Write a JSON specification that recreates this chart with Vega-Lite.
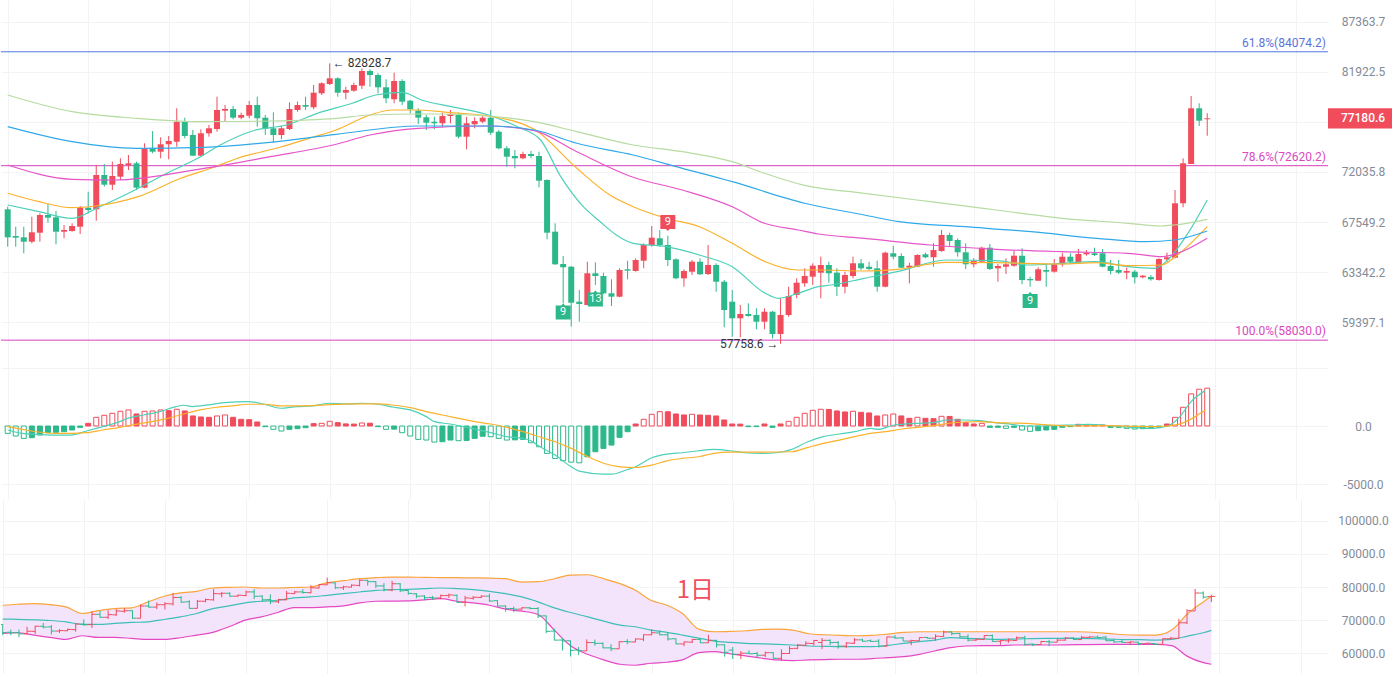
{
  "$schema": "https://vega.github.io/schema/vega-lite/v6.json",
  "padding": 0,
  "background": "white",
  "spacing": 0,
  "bounds": "flush",
  "resolve": {"scale": {"color": "independent"}},
  "config": {
    "view": {"stroke": null},
    "font": "Roboto",
    "axis": {
      "labelFont": "Roboto",
      "labelFontSize": 12,
      "labelColor": "#848b97",
      "gridColor": "#f2f3f5",
      "gridWidth": 1,
      "domain": false,
      "ticks": false,
      "tickSize": 0,
      "title": null,
      "labelPadding": 35
    }
  },
  "datasets": {
    "k": [
      {"i":0,"o":68660,"h":68890,"l":65440,"c":66230},
      {"i":1,"o":66345,"h":67143,"l":65440,"c":66200},
      {"i":2,"o":66234,"h":67143,"l":64885,"c":65860},
      {"i":3,"o":65860,"h":68012,"l":65725,"c":66661},
      {"i":4,"o":66626,"h":68310,"l":65860,"c":68161},
      {"i":5,"o":68161,"h":69132,"l":67489,"c":67925},
      {"i":6,"o":67960,"h":68511,"l":65640,"c":66712},
      {"i":7,"o":66712,"h":67290,"l":66148,"c":66857},
      {"i":8,"o":66772,"h":67437,"l":66712,"c":67203},
      {"i":9,"o":67143,"h":68954,"l":66515,"c":68839},
      {"i":10,"o":68803,"h":70233,"l":68310,"c":68599},
      {"i":11,"o":68661,"h":72687,"l":67662,"c":71758},
      {"i":12,"o":71758,"h":72780,"l":70687,"c":70869},
      {"i":13,"o":70869,"h":72995,"l":70386,"c":71666},
      {"i":14,"o":71601,"h":73315,"l":71297,"c":72780},
      {"i":15,"o":72687,"h":73627,"l":72219,"c":72845},
      {"i":16,"o":72845,"h":72995,"l":70386,"c":70596},
      {"i":17,"o":70596,"h":74743,"l":70541,"c":74263},
      {"i":18,"o":74263,"h":75934,"l":73788,"c":73939},
      {"i":19,"o":73939,"h":75321,"l":73315,"c":74647},
      {"i":20,"o":74647,"h":75448,"l":73220,"c":74963},
      {"i":21,"o":74896,"h":78183,"l":74416,"c":76848},
      {"i":22,"o":76848,"h":77244,"l":75224,"c":75448},
      {"i":23,"o":75545,"h":76031,"l":73532,"c":73561},
      {"i":24,"o":73561,"h":76100,"l":73532,"c":75710},
      {"i":25,"o":75710,"h":76523,"l":75380,"c":76198},
      {"i":26,"o":76129,"h":79358,"l":75866,"c":78011},
      {"i":27,"o":77941,"h":78516,"l":76848,"c":78112},
      {"i":28,"o":78112,"h":78415,"l":77085,"c":77244},
      {"i":29,"o":77244,"h":77742,"l":77085,"c":77513},
      {"i":30,"o":77443,"h":78920,"l":77184,"c":78516},
      {"i":31,"o":78516,"h":79358,"l":76356,"c":77184},
      {"i":32,"o":77244,"h":77513,"l":75545,"c":76129},
      {"i":33,"o":76198,"h":77782,"l":74800,"c":75545},
      {"i":34,"o":75545,"h":76454,"l":75127,"c":76198},
      {"i":35,"o":76129,"h":78788,"l":76031,"c":78112},
      {"i":36,"o":78011,"h":78849,"l":77842,"c":78516},
      {"i":37,"o":78516,"h":79358,"l":78011,"c":78344},
      {"i":38,"o":78284,"h":80561,"l":78082,"c":79767},
      {"i":39,"o":79706,"h":80841,"l":79532,"c":80737},
      {"i":40,"o":80665,"h":82828.7,"l":80561,"c":81257},
      {"i":41,"o":81257,"h":81362,"l":79358,"c":79767},
      {"i":42,"o":79767,"h":80385,"l":79093,"c":80043},
      {"i":43,"o":79971,"h":80800,"l":79869,"c":80561},
      {"i":44,"o":80489,"h":82309,"l":80147,"c":82023},
      {"i":45,"o":82023,"h":82202,"l":80385,"c":81604},
      {"i":46,"o":81604,"h":81782,"l":79706,"c":80323},
      {"i":47,"o":80323,"h":81152,"l":78688,"c":79195},
      {"i":48,"o":79093,"h":81845,"l":78688,"c":80975},
      {"i":49,"o":80975,"h":81152,"l":78516,"c":78849},
      {"i":50,"o":78950,"h":79021,"l":77682,"c":78082},
      {"i":51,"o":77941,"h":78183,"l":76621,"c":77244},
      {"i":52,"o":77284,"h":77513,"l":76031,"c":76750},
      {"i":53,"o":76848,"h":77344,"l":76100,"c":76690},
      {"i":54,"o":76690,"h":77742,"l":76297,"c":77413},
      {"i":55,"o":77413,"h":78011,"l":76690,"c":77613},
      {"i":56,"o":77513,"h":77742,"l":75224,"c":75380},
      {"i":57,"o":75380,"h":77344,"l":74167,"c":76690},
      {"i":58,"o":76592,"h":77284,"l":76198,"c":76917},
      {"i":59,"o":76848,"h":77513,"l":76690,"c":77244},
      {"i":60,"o":77244,"h":78011,"l":75545,"c":75769},
      {"i":61,"o":75866,"h":76031,"l":74167,"c":74263},
      {"i":62,"o":74263,"h":74484,"l":72528,"c":73466},
      {"i":63,"o":73532,"h":74100,"l":72378,"c":73315},
      {"i":64,"o":73315,"h":73939,"l":73220,"c":73722},
      {"i":65,"o":73722,"h":74005,"l":73315,"c":73532},
      {"i":66,"o":73532,"h":73939,"l":70632,"c":71233},
      {"i":67,"o":71297,"h":71362,"l":66063,"c":66626},
      {"i":68,"o":66712,"h":67437,"l":63917,"c":63974},
      {"i":69,"o":63998,"h":64660,"l":60845,"c":63728},
      {"i":70,"o":63777,"h":63834,"l":59042,"c":60892},
      {"i":71,"o":60970,"h":61893,"l":59423,"c":60791},
      {"i":72,"o":60713,"h":64187,"l":60713,"c":63238},
      {"i":73,"o":63238,"h":64138,"l":62294,"c":63019},
      {"i":74,"o":63019,"h":63287,"l":61577,"c":61632},
      {"i":75,"o":61632,"h":62751,"l":60634,"c":61364},
      {"i":76,"o":61364,"h":63646,"l":61316,"c":63506},
      {"i":77,"o":63563,"h":64270,"l":62751,"c":63449},
      {"i":78,"o":63425,"h":64469,"l":63368,"c":64327},
      {"i":79,"o":64270,"h":65725,"l":63646,"c":65582},
      {"i":80,"o":65582,"h":67203,"l":65438,"c":66200},
      {"i":81,"o":66148,"h":66857,"l":65438,"c":65582},
      {"i":82,"o":65582,"h":66370,"l":63834,"c":64327},
      {"i":83,"o":64385,"h":64469,"l":62751,"c":62832},
      {"i":84,"o":62832,"h":63563,"l":62157,"c":63425},
      {"i":85,"o":63368,"h":64327,"l":63100,"c":64187},
      {"i":86,"o":64187,"h":64469,"l":63100,"c":63157},
      {"i":87,"o":63181,"h":65582,"l":63100,"c":63917},
      {"i":88,"o":63917,"h":64056,"l":61759,"c":62558},
      {"i":89,"o":62558,"h":62694,"l":58997,"c":60322},
      {"i":90,"o":60970,"h":61893,"l":58288,"c":59683},
      {"i":91,"o":59683,"h":60713,"l":58243,"c":60014},
      {"i":92,"o":60014,"h":60845,"l":59806,"c":59860},
      {"i":93,"o":59937,"h":60455,"l":58844,"c":59423},
      {"i":94,"o":59423,"h":60455,"l":58844,"c":60191},
      {"i":95,"o":60191,"h":60250,"l":58168,"c":58491},
      {"i":96,"o":58491,"h":61237,"l":57758.6,"c":59937},
      {"i":97,"o":59937,"h":62157,"l":59806,"c":61419},
      {"i":98,"o":61498,"h":62832,"l":61237,"c":62478},
      {"i":99,"o":62430,"h":63646,"l":62157,"c":63019},
      {"i":100,"o":62962,"h":64056,"l":62294,"c":63859},
      {"i":101,"o":63287,"h":64602,"l":61237,"c":63917},
      {"i":102,"o":63917,"h":64187,"l":62478,"c":63238},
      {"i":103,"o":63287,"h":63646,"l":61419,"c":62157},
      {"i":104,"o":62157,"h":63368,"l":61632,"c":63100},
      {"i":105,"o":63019,"h":64602,"l":62832,"c":64056},
      {"i":106,"o":64056,"h":64410,"l":63506,"c":63646},
      {"i":107,"o":63777,"h":64187,"l":63506,"c":63588},
      {"i":108,"o":63646,"h":64270,"l":61759,"c":62157},
      {"i":109,"o":62157,"h":65018,"l":62109,"c":64935},
      {"i":110,"o":64885,"h":65497,"l":64385,"c":64602},
      {"i":111,"o":64660,"h":64885,"l":63646,"c":63695},
      {"i":112,"o":63695,"h":64105,"l":62426,"c":63859},
      {"i":113,"o":63777,"h":64802,"l":63728,"c":64743},
      {"i":114,"o":64802,"h":64935,"l":64469,"c":64552},
      {"i":115,"o":64552,"h":65725,"l":63777,"c":65160},
      {"i":116,"o":65077,"h":66857,"l":65018,"c":66430},
      {"i":117,"o":66430,"h":66626,"l":65438,"c":65919},
      {"i":118,"o":66003,"h":66148,"l":64602,"c":64968},
      {"i":119,"o":64968,"h":65725,"l":63588,"c":63974},
      {"i":120,"o":63974,"h":64469,"l":63728,"c":64245},
      {"i":121,"o":64187,"h":65438,"l":64138,"c":65354},
      {"i":122,"o":65354,"h":65666,"l":63506,"c":63588},
      {"i":123,"o":63646,"h":63998,"l":62556,"c":63834},
      {"i":124,"o":63777,"h":64469,"l":63181,"c":63974},
      {"i":125,"o":63859,"h":65102,"l":63777,"c":64685},
      {"i":126,"o":64685,"h":65303,"l":62350,"c":62694},
      {"i":127,"o":62775,"h":62962,"l":62157,"c":62670},
      {"i":128,"o":62638,"h":63728,"l":62638,"c":63563},
      {"i":129,"o":63506,"h":64056,"l":62157,"c":63368},
      {"i":130,"o":63368,"h":64410,"l":63287,"c":63974},
      {"i":131,"o":63974,"h":64935,"l":63777,"c":64602},
      {"i":132,"o":64602,"h":64885,"l":63998,"c":64187},
      {"i":133,"o":64138,"h":65244,"l":64105,"c":64827},
      {"i":134,"o":64802,"h":65160,"l":64685,"c":64935},
      {"i":135,"o":64885,"h":65354,"l":64660,"c":64743},
      {"i":136,"o":64885,"h":65244,"l":63728,"c":63777},
      {"i":137,"o":63834,"h":64327,"l":63157,"c":63425},
      {"i":138,"o":63506,"h":64327,"l":63181,"c":63287},
      {"i":139,"o":63287,"h":63695,"l":62751,"c":63425},
      {"i":140,"o":63368,"h":63506,"l":62430,"c":62913},
      {"i":141,"o":62913,"h":63100,"l":62832,"c":63043},
      {"i":142,"o":62938,"h":63100,"l":62638,"c":62751},
      {"i":143,"o":62694,"h":64469,"l":62638,"c":64410},
      {"i":144,"o":64385,"h":64935,"l":64187,"c":64552},
      {"i":145,"o":64519,"h":70386,"l":64469,"c":69194},
      {"i":146,"o":69194,"h":73315,"l":68839,"c":72845},
      {"i":147,"o":72780,"h":79430,"l":72780,"c":78183},
      {"i":148,"o":78183,"h":78688,"l":76424,"c":76946},
      {"i":149,"o":77090,"h":77682,"l":75477,"c":77180.6}
    ],
    "ma": [
      {"s":"m1","i":0,"v":69043},{"s":"m1","i":3.9,"v":68450},{"s":"m1","i":8,"v":67872},{"s":"m1","i":11.3,"v":68839},
      {"s":"m1","i":15,"v":70089},{"s":"m1","i":19.9,"v":71970},{"s":"m1","i":23.6,"v":73315},{"s":"m1","i":26.4,"v":74580},
      {"s":"m1","i":30.5,"v":75962},{"s":"m1","i":34.6,"v":76523},{"s":"m1","i":38.7,"v":77742},{"s":"m1","i":42.8,"v":78688},
      {"s":"m1","i":45.7,"v":79532},{"s":"m1","i":49,"v":79800},{"s":"m1","i":51.4,"v":79021},{"s":"m1","i":55.1,"v":78344},
      {"s":"m1","i":59.7,"v":77513},{"s":"m1","i":63.3,"v":76356},{"s":"m1","i":66.2,"v":75059},{"s":"m1","i":68.7,"v":71601},
      {"s":"m1","i":71.5,"v":68892},{"s":"m1","i":73.6,"v":67576},{"s":"m1","i":75.6,"v":66430},{"s":"m1","i":77.7,"v":65725},
      {"s":"m1","i":81.8,"v":65438},{"s":"m1","i":85.9,"v":64743},{"s":"m1","i":90,"v":63777},{"s":"m1","i":94.1,"v":61632},
      {"s":"m1","i":95.7,"v":61237},{"s":"m1","i":98.2,"v":61632},{"s":"m1","i":100.7,"v":62157},{"s":"m1","i":102.3,"v":62294},
      {"s":"m1","i":106.4,"v":62832},{"s":"m1","i":110.5,"v":63368},{"s":"m1","i":116.6,"v":64327},{"s":"m1","i":122.8,"v":64270},
      {"s":"m1","i":126.9,"v":63917},{"s":"m1","i":131,"v":64056},{"s":"m1","i":135.1,"v":64187},{"s":"m1","i":139.2,"v":63777},
      {"s":"m1","i":142.5,"v":63646},{"s":"m1","i":144.1,"v":64327},{"s":"m1","i":146.6,"v":66575},{"s":"m1","i":149,"v":69487},
      {"s":"m2","i":0,"v":70089},{"s":"m2","i":3.9,"v":69336},{"s":"m2","i":8,"v":68803},{"s":"m2","i":10.9,"v":68954},
      {"s":"m2","i":16.2,"v":69784},{"s":"m2","i":21.5,"v":71454},{"s":"m2","i":25.6,"v":72471},{"s":"m2","i":28.5,"v":73300},
      {"s":"m2","i":33.8,"v":74359},{"s":"m2","i":37.9,"v":75321},{"s":"m2","i":40.8,"v":76031},{"s":"m2","i":45,"v":77513},
      {"s":"m2","i":47.8,"v":78011},{"s":"m2","i":51,"v":78011},{"s":"m2","i":55.1,"v":77742},{"s":"m2","i":59.7,"v":77413},
      {"s":"m2","i":65.4,"v":76100},{"s":"m2","i":70.7,"v":72378},{"s":"m2","i":74.8,"v":69936},{"s":"m2","i":77.7,"v":68892},
      {"s":"m2","i":81.8,"v":67872},{"s":"m2","i":85.9,"v":67143},{"s":"m2","i":90,"v":65725},{"s":"m2","i":94.1,"v":64187},
      {"s":"m2","i":98.2,"v":63506},{"s":"m2","i":100.7,"v":63506},{"s":"m2","i":106.4,"v":63425},{"s":"m2","i":110.5,"v":63563},
      {"s":"m2","i":116.6,"v":64138},{"s":"m2","i":122.8,"v":64105},{"s":"m2","i":131,"v":63998},{"s":"m2","i":135.1,"v":64105},
      {"s":"m2","i":139.2,"v":63859},{"s":"m2","i":143.3,"v":63917},{"s":"m2","i":145.3,"v":64743},{"s":"m2","i":149,"v":67143},
      {"s":"m3","i":0,"v":72687},{"s":"m3","i":8,"v":71362},{"s":"m3","i":13.3,"v":71297},{"s":"m3","i":24.4,"v":72378},
      {"s":"m3","i":32.6,"v":73466},{"s":"m3","i":40.8,"v":74647},{"s":"m3","i":45,"v":75545},{"s":"m3","i":51,"v":76198},
      {"s":"m3","i":59.7,"v":76424},{"s":"m3","i":65.4,"v":75962},{"s":"m3","i":70.7,"v":73939},{"s":"m3","i":77.7,"v":71546},
      {"s":"m3","i":83.8,"v":70386},{"s":"m3","i":90,"v":68892},{"s":"m3","i":94,"v":67437},{"s":"m3","i":98.2,"v":66857},
      {"s":"m3","i":100.7,"v":66515},{"s":"m3","i":106.4,"v":66148},{"s":"m3","i":114.6,"v":65582},{"s":"m3","i":122.8,"v":65219},
      {"s":"m3","i":131,"v":65018},{"s":"m3","i":139.2,"v":64885},{"s":"m3","i":143.3,"v":64602},{"s":"m3","i":145.3,"v":64885},
      {"s":"m3","i":149,"v":66148},
      {"s":"m4","i":0,"v":76356},{"s":"m4","i":8,"v":74896},{"s":"m4","i":16,"v":74263},{"s":"m4","i":24.4,"v":74359},
      {"s":"m4","i":32.6,"v":74838},{"s":"m4","i":40.8,"v":75613},{"s":"m4","i":51,"v":76424},{"s":"m4","i":59.7,"v":76424},
      {"s":"m4","i":65.4,"v":76031},{"s":"m4","i":70.7,"v":74743},{"s":"m4","i":77.7,"v":73627},{"s":"m4","i":83.8,"v":72378},
      {"s":"m4","i":90,"v":71142},{"s":"m4","i":99,"v":69200},{"s":"m4","i":106.4,"v":68161},{"s":"m4","i":110.7,"v":67576},
      {"s":"m4","i":118.9,"v":67143},{"s":"m4","i":127.1,"v":66712},{"s":"m4","i":135.3,"v":66148},{"s":"m4","i":141.4,"v":65860},
      {"s":"m4","i":144.9,"v":66003},{"s":"m4","i":149,"v":66772},
      {"s":"m5","i":0,"v":79532},{"s":"m5","i":8,"v":77842},{"s":"m5","i":16,"v":77184},{"s":"m5","i":24.4,"v":76848},
      {"s":"m5","i":32.6,"v":76917},{"s":"m5","i":40.8,"v":77184},{"s":"m5","i":45,"v":77513},{"s":"m5","i":51,"v":77613},
      {"s":"m5","i":53.1,"v":77613},{"s":"m5","i":59.7,"v":77413},{"s":"m5","i":65.4,"v":76848},{"s":"m5","i":70.7,"v":75866},
      {"s":"m5","i":77.7,"v":74580},{"s":"m5","i":83.8,"v":73939},{"s":"m5","i":90,"v":72995},{"s":"m5","i":94,"v":71915},
      {"s":"m5","i":99,"v":70800},{"s":"m5","i":106.4,"v":70089},{"s":"m5","i":114.6,"v":69336},{"s":"m5","i":122.8,"v":68599},
      {"s":"m5","i":131,"v":67872},{"s":"m5","i":139.2,"v":67437},{"s":"m5","i":143.3,"v":67203},{"s":"m5","i":144.9,"v":67290},
      {"s":"m5","i":149,"v":67785}
    ],
    "macd": [
      {"i":0,"h":-631},{"i":1,"h":-861},{"i":2,"h":-1062},{"i":3,"h":-1005},{"i":4,"h":-775},{"i":5,"h":-574},
      {"i":6,"h":-545},{"i":7,"h":-488},{"i":8,"h":-344},{"i":9,"h":-115},{"i":10,"h":230},{"i":11,"h":746},
      {"i":12,"h":918},{"i":13,"h":1091},{"i":14,"h":1263},{"i":15,"h":1378},{"i":16,"h":1033},{"i":17,"h":1263},
      {"i":18,"h":1290},{"i":19,"h":1378},{"i":20,"h":1320},{"i":21,"h":1435},{"i":22,"h":1292},{"i":23,"h":861},
      {"i":24,"h":775},{"i":25,"h":746},{"i":26,"h":861},{"i":27,"h":947},{"i":28,"h":746},{"i":29,"h":574},
      {"i":30,"h":545},{"i":31,"h":344},{"i":32,"h":-57},{"i":33,"h":-287},{"i":34,"h":-431},{"i":35,"h":-287},
      {"i":36,"h":-230},{"i":37,"h":-144},{"i":38,"h":201},{"i":39,"h":230},{"i":40,"h":402},{"i":41,"h":287},
      {"i":42,"h":180},{"i":43,"h":165},{"i":44,"h":260},{"i":45,"h":240},{"i":46,"h":-57},{"i":47,"h":-287},
      {"i":48,"h":-270},{"i":49,"h":-574},{"i":50,"h":-861},{"i":51,"h":-1148},{"i":52,"h":-1205},{"i":53,"h":-1378},
      {"i":54,"h":-1349},{"i":55,"h":-1205},{"i":56,"h":-1263},{"i":57,"h":-1240},{"i":58,"h":-1062},{"i":59,"h":-880},
      {"i":60,"h":-920},{"i":61,"h":-1062},{"i":62,"h":-1205},{"i":63,"h":-1190},{"i":64,"h":-1148},{"i":65,"h":-1435},
      {"i":66,"h":-1779},{"i":67,"h":-2353},{"i":68,"h":-2784},{"i":69,"h":-2985},{"i":70,"h":-3100},{"i":71,"h":-3157},
      {"i":72,"h":-2640},{"i":73,"h":-2210},{"i":74,"h":-1923},{"i":75,"h":-1636},{"i":76,"h":-976},{"i":77,"h":-488},
      {"i":78,"h":172},{"i":79,"h":574},{"i":80,"h":1005},{"i":81,"h":1234},{"i":82,"h":1220},{"i":83,"h":1033},
      {"i":84,"h":947},{"i":85,"h":1005},{"i":86,"h":947},{"i":87,"h":918},{"i":88,"h":861},{"i":89,"h":517},
      {"i":90,"h":172},{"i":91,"h":160},{"i":92,"h":-57},{"i":93,"h":-50},{"i":94,"h":172},{"i":95,"h":-115},
      {"i":96,"h":172},{"i":97,"h":402},{"i":98,"h":746},{"i":99,"h":1091},{"i":100,"h":1349},{"i":101,"h":1435},
      {"i":102,"h":1420},{"i":103,"h":1292},{"i":104,"h":1205},{"i":105,"h":1263},{"i":106,"h":1177},{"i":107,"h":1120},
      {"i":108,"h":861},{"i":109,"h":947},{"i":110,"h":1033},{"i":111,"h":861},{"i":112,"h":660},{"i":113,"h":746},
      {"i":114,"h":660},{"i":115,"h":630},{"i":116,"h":832},{"i":117,"h":820},{"i":118,"h":574},{"i":119,"h":287},
      {"i":120,"h":172},{"i":121,"h":230},{"i":122,"h":-115},{"i":123,"h":-110},{"i":124,"h":-200},{"i":125,"h":-115},
      {"i":126,"h":-344},{"i":127,"h":-459},{"i":128,"h":-402},{"i":129,"h":-344},{"i":130,"h":-287},{"i":131,"h":-115},
      {"i":132,"h":-57},{"i":133,"h":144},{"i":134,"h":130},{"i":135,"h":120},{"i":136,"h":86},{"i":137,"h":-120},
      {"i":138,"h":-115},{"i":139,"h":-200},{"i":140,"h":-258},{"i":141,"h":-230},{"i":142,"h":-220},{"i":143,"h":-115},
      {"i":144,"h":172},{"i":145,"h":746},{"i":146,"h":1607},{"i":147,"h":2755},{"i":148,"h":3157},{"i":149,"h":3243}
    ],
    "dif": [
      {"s":"DIF","i":0,"v":-344},{"s":"DIF","i":1.8,"v":-631},{"s":"DIF","i":3.8,"v":-718},{"s":"DIF","i":5.8,"v":-775},
      {"s":"DIF","i":7.8,"v":-775},{"s":"DIF","i":9.8,"v":-431},{"s":"DIF","i":11.8,"v":-57},{"s":"DIF","i":13.9,"v":373},
      {"s":"DIF","i":14.9,"v":660},{"s":"DIF","i":16.9,"v":947},{"s":"DIF","i":18.9,"v":1234},{"s":"DIF","i":20.9,"v":1665},
      {"s":"DIF","i":21.9,"v":1779},{"s":"DIF","i":22.9,"v":1665},{"s":"DIF","i":24.9,"v":1808},{"s":"DIF","i":26.9,"v":2009},
      {"s":"DIF","i":29.9,"v":2095},{"s":"DIF","i":31.9,"v":1866},{"s":"DIF","i":33.9,"v":1521},{"s":"DIF","i":35.9,"v":1665},
      {"s":"DIF","i":37.9,"v":1722},{"s":"DIF","i":40,"v":1952},{"s":"DIF","i":42,"v":1894},{"s":"DIF","i":44,"v":1952},
      {"s":"DIF","i":46,"v":1866},{"s":"DIF","i":48,"v":1607},{"s":"DIF","i":50,"v":1378},{"s":"DIF","i":52,"v":804},
      {"s":"DIF","i":53,"v":373},{"s":"DIF","i":55,"v":172},{"s":"DIF","i":57,"v":-115},{"s":"DIF","i":60,"v":-574},
      {"s":"DIF","i":62,"v":-918},{"s":"DIF","i":64,"v":-1062},{"s":"DIF","i":65,"v":-1263},{"s":"DIF","i":66,"v":-1722},
      {"s":"DIF","i":68,"v":-2497},{"s":"DIF","i":70,"v":-3501},{"s":"DIF","i":71,"v":-3875},{"s":"DIF","i":74,"v":-4133},
      {"s":"DIF","i":75,"v":-4133},{"s":"DIF","i":77,"v":-3731},{"s":"DIF","i":78,"v":-3501},{"s":"DIF","i":80,"v":-2727},
      {"s":"DIF","i":81.9,"v":-2411},{"s":"DIF","i":83.8,"v":-2296},{"s":"DIF","i":85.8,"v":-2124},{"s":"DIF","i":87.7,"v":-2009},
      {"s":"DIF","i":89.7,"v":-2124},{"s":"DIF","i":91.6,"v":-2296},{"s":"DIF","i":93.6,"v":-2353},{"s":"DIF","i":95.5,"v":-2296},
      {"s":"DIF","i":97.4,"v":-2009},{"s":"DIF","i":99.4,"v":-1349},{"s":"DIF","i":101.3,"v":-918},{"s":"DIF","i":103.3,"v":-689},
      {"s":"DIF","i":105.2,"v":-488},{"s":"DIF","i":107.2,"v":-201},{"s":"DIF","i":108.1,"v":-287},{"s":"DIF","i":110.1,"v":86},
      {"s":"DIF","i":113,"v":230},{"s":"DIF","i":114.9,"v":287},{"s":"DIF","i":116.9,"v":517},{"s":"DIF","i":118.8,"v":517},
      {"s":"DIF","i":120.8,"v":459},{"s":"DIF","i":122.7,"v":287},{"s":"DIF","i":124.7,"v":144},{"s":"DIF","i":126.6,"v":0},
      {"s":"DIF","i":128.6,"v":0},{"s":"DIF","i":130.5,"v":57},{"s":"DIF","i":132.4,"v":86},{"s":"DIF","i":134.4,"v":144},
      {"s":"DIF","i":136.3,"v":57},{"s":"DIF","i":138.3,"v":-57},{"s":"DIF","i":140.2,"v":-144},{"s":"DIF","i":142.2,"v":-201},
      {"s":"DIF","i":144.1,"v":0},{"s":"DIF","i":145.6,"v":804},{"s":"DIF","i":147,"v":2095},{"s":"DIF","i":148.7,"v":3014},
      {"s":"DEA","i":0,"v":-57},{"s":"DEA","i":1.8,"v":-287},{"s":"DEA","i":3.8,"v":-517},{"s":"DEA","i":5.8,"v":-631},
      {"s":"DEA","i":7.8,"v":-631},{"s":"DEA","i":9.8,"v":-574},{"s":"DEA","i":11.8,"v":-344},{"s":"DEA","i":13.9,"v":-115},
      {"s":"DEA","i":15.9,"v":144},{"s":"DEA","i":17.9,"v":373},{"s":"DEA","i":19.9,"v":660},{"s":"DEA","i":21.9,"v":1033},
      {"s":"DEA","i":23.9,"v":1378},{"s":"DEA","i":25.9,"v":1607},{"s":"DEA","i":27.9,"v":1722},{"s":"DEA","i":29.9,"v":1866},
      {"s":"DEA","i":31.9,"v":1866},{"s":"DEA","i":33.9,"v":1722},{"s":"DEA","i":35.9,"v":1722},{"s":"DEA","i":37.9,"v":1751},
      {"s":"DEA","i":40,"v":1837},{"s":"DEA","i":44,"v":1894},{"s":"DEA","i":46,"v":1894},{"s":"DEA","i":48,"v":1779},
      {"s":"DEA","i":50,"v":1579},{"s":"DEA","i":52,"v":1234},{"s":"DEA","i":54,"v":947},{"s":"DEA","i":56,"v":660},
      {"s":"DEA","i":58,"v":373},{"s":"DEA","i":60,"v":172},{"s":"DEA","i":62,"v":-115},{"s":"DEA","i":64,"v":-488},
      {"s":"DEA","i":66,"v":-918},{"s":"DEA","i":68,"v":-1349},{"s":"DEA","i":70,"v":-1923},{"s":"DEA","i":72.1,"v":-2640},
      {"s":"DEA","i":74.1,"v":-3214},{"s":"DEA","i":76.1,"v":-3501},{"s":"DEA","i":78,"v":-3559},{"s":"DEA","i":80,"v":-3358},
      {"s":"DEA","i":81.9,"v":-2985},{"s":"DEA","i":83.8,"v":-2784},{"s":"DEA","i":85.8,"v":-2640},{"s":"DEA","i":87.7,"v":-2353},
      {"s":"DEA","i":89.7,"v":-2239},{"s":"DEA","i":93.6,"v":-2239},{"s":"DEA","i":97.4,"v":-2210},{"s":"DEA","i":99.4,"v":-1837},
      {"s":"DEA","i":101.3,"v":-1492},{"s":"DEA","i":103.3,"v":-1205},{"s":"DEA","i":105.2,"v":-918},{"s":"DEA","i":107.2,"v":-631},
      {"s":"DEA","i":109.1,"v":-488},{"s":"DEA","i":111.1,"v":-258},{"s":"DEA","i":113,"v":-115},{"s":"DEA","i":114.9,"v":29},
      {"s":"DEA","i":116.9,"v":230},{"s":"DEA","i":118.8,"v":344},{"s":"DEA","i":120.8,"v":373},{"s":"DEA","i":122.7,"v":287},
      {"s":"DEA","i":124.7,"v":258},{"s":"DEA","i":126.6,"v":230},{"s":"DEA","i":128.6,"v":115},{"s":"DEA","i":132.4,"v":0},
      {"s":"DEA","i":136.3,"v":29},{"s":"DEA","i":140.2,"v":-29},{"s":"DEA","i":142.2,"v":-57},{"s":"DEA","i":144.1,"v":0},
      {"s":"DEA","i":146.1,"v":287},{"s":"DEA","i":147.5,"v":804},{"s":"DEA","i":148.7,"v":1320}
    ],
    "boll": [
      {"i":0,"up":74500,"mid":70300,"lo":66000},{"i":1.8,"up":74800,"mid":70250,"lo":66200},
      {"i":3.8,"up":75000,"mid":70100,"lo":65500},{"i":5.8,"up":74700,"mid":69900,"lo":64800},
      {"i":7.8,"up":74000,"mid":69500,"lo":64200},{"i":9.8,"up":72000,"mid":68700,"lo":65300},
      {"i":11.8,"up":72900,"mid":68700,"lo":64800},{"i":13.8,"up":73500,"mid":69000,"lo":64800},
      {"i":15.9,"up":73700,"mid":69300,"lo":64500},{"i":17.9,"up":75500,"mid":69500,"lo":64200},
      {"i":19.9,"up":77200,"mid":70200,"lo":64200},{"i":21.9,"up":78200,"mid":71000,"lo":64700},
      {"i":23.9,"up":78700,"mid":72000,"lo":65500},{"i":25.9,"up":79700,"mid":73500,"lo":66300},
      {"i":27.9,"up":79900,"mid":74300,"lo":68000},{"i":29.9,"up":80000,"mid":75200,"lo":70000},
      {"i":31.9,"up":79700,"mid":75700,"lo":71000},{"i":33.9,"up":79700,"mid":76000,"lo":72300},
      {"i":35.9,"up":79850,"mid":76700,"lo":73800},{"i":37.9,"up":80000,"mid":77000,"lo":73800},
      {"i":40,"up":81300,"mid":77500,"lo":74000},{"i":42,"up":81900,"mid":78000,"lo":74300},
      {"i":44,"up":82500,"mid":78500,"lo":75200},{"i":46,"up":82800,"mid":79000,"lo":75700},
      {"i":48,"up":83000,"mid":79200,"lo":75750},{"i":50,"up":83000,"mid":79300,"lo":75800},
      {"i":52,"up":82900,"mid":79500,"lo":76100},{"i":54,"up":82850,"mid":79700,"lo":76500},
      {"i":56,"up":82800,"mid":79500,"lo":75700},{"i":58,"up":82750,"mid":79200,"lo":75200},
      {"i":60,"up":82700,"mid":78700,"lo":74500},{"i":62,"up":82500,"mid":78000,"lo":73300},
      {"i":64,"up":81500,"mid":77000,"lo":72700},{"i":66,"up":81600,"mid":75500,"lo":71700},
      {"i":68,"up":82500,"mid":73700,"lo":67000},{"i":70,"up":83600,"mid":72300,"lo":62300},
      {"i":72.1,"up":83700,"mid":71000,"lo":59700},{"i":74.1,"up":82500,"mid":69700,"lo":58000},
      {"i":76.1,"up":81000,"mid":68500,"lo":56700},{"i":78,"up":79000,"mid":68000,"lo":56400},
      {"i":79.9,"up":76000,"mid":67000,"lo":57000},{"i":81.9,"up":74500,"mid":66300,"lo":57300},
      {"i":83.8,"up":72000,"mid":65500,"lo":58000},{"i":85.8,"up":67300,"mid":64600,"lo":60200},
      {"i":87.7,"up":66500,"mid":63700,"lo":60500},{"i":89.7,"up":66600,"mid":63300,"lo":59800},
      {"i":91.6,"up":66800,"mid":63000,"lo":59200},{"i":93.6,"up":67200,"mid":62850,"lo":58500},
      {"i":95.5,"up":67300,"mid":62700,"lo":58000},{"i":97.4,"up":67000,"mid":62500,"lo":57800},
      {"i":99.4,"up":65900,"mid":62200,"lo":58000},{"i":101.3,"up":65600,"mid":62100,"lo":58100},
      {"i":103.3,"up":65400,"mid":62000,"lo":58200},{"i":105.2,"up":65300,"mid":62000,"lo":58200},
      {"i":107.2,"up":65400,"mid":62000,"lo":58400},{"i":109.1,"up":65800,"mid":62400,"lo":58700},
      {"i":111.1,"up":66300,"mid":63000,"lo":59000},{"i":113,"up":66500,"mid":63500,"lo":59700},
      {"i":114.9,"up":66500,"mid":64000,"lo":60700},{"i":116.9,"up":66500,"mid":64700,"lo":61700},
      {"i":118.8,"up":66500,"mid":64500,"lo":62200},{"i":120.8,"up":66500,"mid":64350,"lo":62300},
      {"i":122.7,"up":66500,"mid":64200,"lo":62300},{"i":124.7,"up":66500,"mid":64300,"lo":62500},
      {"i":128.6,"up":66500,"mid":64500,"lo":62500},{"i":132.4,"up":66500,"mid":64500,"lo":62600},
      {"i":136.3,"up":66000,"mid":64300,"lo":62700},{"i":138.3,"up":65600,"mid":64150,"lo":62700},
      {"i":140.2,"up":65500,"mid":64100,"lo":62700},{"i":142.2,"up":65500,"mid":64000,"lo":62700},
      {"i":144.1,"up":67000,"mid":64200,"lo":62300},{"i":146.1,"up":72000,"mid":65200,"lo":59000},
      {"i":148,"up":75500,"mid":66200,"lo":57200},{"i":149,"up":77200,"mid":66900,"lo":56700}
    ],
    "fib": [
      {"level":"61.8%","p":84074.2,"t":"61.8%(84074.2)"},
      {"level":"78.6%","p":72620.2,"t":"78.6%(72620.2)"},
      {"level":"100.0%","p":58030.0,"t":"100.0%(58030.0)"}
    ],
    "td": [
      {"i":69,"p":60869,"t":"9","side":"buy"},
      {"i":73,"p":61900,"t":"13","side":"buy"},
      {"i":82,"p":66730,"t":"9","side":"sell"},
      {"i":127,"p":61780,"t":"9","side":"buy"}
    ]
  },
  "vconcat": [
    {
      "width": 1327,
      "height": 352,
      "resolve": {"scale": {"color": "independent"}},
      "layer": [
        {
          "data": {"name": "fib"},
          "mark": {"type": "rule", "strokeWidth": 1},
          "encoding": {
            "y": {
              "field": "p", "type": "quantitative",
              "scale": {"type": "log", "domain": [57152, 89863], "nice": false, "zero": false},
              "axis": {
                "orient": "right", "labelAlign": "center", "labelBaseline": "middle", "grid": true,
                "values": [59397.1, 63342.2, 67549.2, 72035.8, 76819, 81922.5, 87363.7],
                "labelExpr": "datum.value == 76819 ? '' : format(datum.value, '.1f')",
                "title": null
              }
            },
            "color": {"field": "level", "type": "nominal", "scale": {"domain": ["61.8%", "78.6%", "100.0%"], "range": ["#5078df", "#d440bd", "#d440bd"]}, "legend": null}
          }
        },
        {
          "data": {"name": "fib"},
          "mark": {"type": "text", "align": "right", "baseline": "bottom", "dx": -2, "dy": -2, "fontSize": 12, "font": "Roboto"},
          "encoding": {
            "x": {"value": "width"},
            "y": {"field": "p", "type": "quantitative"},
            "text": {"field": "t"},
            "color": {"field": "level", "type": "nominal", "scale": {"domain": ["61.8%", "78.6%", "100.0%"], "range": ["#5b74db", "#d94abf", "#d94abf"]}, "legend": null}
          }
        },
        {
          "data": {"name": "k"},
          "mark": {"type": "rule", "strokeWidth": 1, "clip": true},
          "encoding": {
            "x": {
              "field": "i", "type": "quantitative",
              "scale": {"domain": [-0.21, 163.38], "nice": false, "zero": false},
              "axis": {"labels": false, "ticks": false, "domain": false, "grid": true, "values": [0, 10, 20, 30, 40, 50, 60, 70, 80, 90, 100, 110, 120, 130, 140, 150, 160], "title": null}
            },
            "y": {"field": "h", "type": "quantitative"},
            "y2": {"field": "l"},
            "color": {"condition": {"test": "datum.c >= datum.o", "value": "#f04c5c"}, "value": "#2db88b"}
          }
        },
        {
          "data": {"name": "k"},
          "mark": {"type": "bar", "size": 6, "clip": true},
          "encoding": {
            "x": {"field": "i", "type": "quantitative"},
            "y": {"field": "o", "type": "quantitative"},
            "y2": {"field": "c"},
            "color": {"condition": {"test": "datum.c >= datum.o", "value": "#f04c5c"}, "value": "#2db88b"}
          }
        },
        {
          "data": {"name": "ma"},
          "mark": {"type": "line", "strokeWidth": 1.2, "clip": true, "interpolate": "monotone"},
          "encoding": {
            "x": {"field": "i", "type": "quantitative"},
            "y": {"field": "v", "type": "quantitative"},
            "color": {"field": "s", "type": "nominal", "scale": {"domain": ["m1", "m2", "m3", "m4", "m5"], "range": ["#4dd0b8", "#fbb22b", "#e655c9", "#2fa9e9", "#b6dca0"]}, "legend": null}
          }
        },
        {
          "data": {"name": "td"},
          "transform": [{"filter": "datum.side == 'buy'"}],
          "mark": {"type": "point", "filled": true, "opacity": 1, "size": 225, "yOffset": 9, "color": "#2db88b", "shape": "M-1,-0.87L-0.25,-0.87L0,-1.13L0.25,-0.87L1,-0.87L1,1L-1,1Z"},
          "encoding": {
            "x": {"field": "i", "type": "quantitative"},
            "y": {"field": "p", "type": "quantitative"}
          }
        },
        {
          "data": {"name": "td"},
          "transform": [{"filter": "datum.side == 'buy'"}],
          "mark": {"type": "text", "color": "white", "fontSize": 11, "yOffset": 9.5, "baseline": "middle", "align": "center"},
          "encoding": {
            "x": {"field": "i", "type": "quantitative"},
            "y": {"field": "p", "type": "quantitative"},
            "text": {"field": "t"}
          }
        },
        {
          "data": {"name": "td"},
          "transform": [{"filter": "datum.side == 'sell'"}],
          "mark": {"type": "point", "filled": true, "opacity": 1, "size": 225, "yOffset": -9, "color": "#f04c5c", "shape": "M-1,-1L1,-1L1,0.87L0.25,0.87L0,1.13L-0.25,0.87L-1,0.87Z"},
          "encoding": {
            "x": {"field": "i", "type": "quantitative"},
            "y": {"field": "p", "type": "quantitative"}
          }
        },
        {
          "data": {"name": "td"},
          "transform": [{"filter": "datum.side == 'sell'"}],
          "mark": {"type": "text", "color": "white", "fontSize": 11, "yOffset": -9.5, "baseline": "middle", "align": "center"},
          "encoding": {
            "x": {"field": "i", "type": "quantitative"},
            "y": {"field": "p", "type": "quantitative"},
            "text": {"field": "t"}
          }
        },
        {
          "data": {"values": [{"i": 40, "p": 82828.7, "t": "← 82828.7"}]},
          "mark": {"type": "text", "align": "left", "baseline": "middle", "dx": 3, "fontSize": 12, "color": "#333333"},
          "encoding": {
            "x": {"field": "i", "type": "quantitative"},
            "y": {"field": "p", "type": "quantitative"},
            "text": {"field": "t"}
          }
        },
        {
          "data": {"values": [{"i": 96, "p": 57758.6, "t": "57758.6 →"}]},
          "mark": {"type": "text", "align": "right", "baseline": "middle", "dx": -2, "fontSize": 12, "color": "#333333"},
          "encoding": {
            "x": {"field": "i", "type": "quantitative"},
            "y": {"field": "p", "type": "quantitative"},
            "text": {"field": "t"}
          }
        },
        {
          "data": {"values": [{"p": 77180.6, "t": "77180.6"}]},
          "mark": {"type": "point", "filled": true, "opacity": 1, "size": 4225, "xOffset": 32.5, "color": "#f04c5c", "shape": "M-1,-0.31L1,-0.31L1,0.31L-1,0.31Z"},
          "encoding": {
            "x": {"value": "width"},
            "y": {"field": "p", "type": "quantitative"}
          }
        },
        {
          "data": {"values": [{"p": 77180.6, "t": "77180.6"}]},
          "mark": {"type": "text", "color": "white", "fontSize": 12, "fontWeight": 500, "xOffset": 35, "align": "center", "baseline": "middle"},
          "encoding": {
            "x": {"value": "width"},
            "y": {"field": "p", "type": "quantitative"},
            "text": {"field": "t"}
          }
        }
      ]
    },
    {
      "width": 1327,
      "height": 147,
      "resolve": {"scale": {"color": "independent"}},
      "layer": [
        {
          "data": {"name": "macd"},
          "transform": [{"window": [{"op": "lag", "field": "h", "as": "pv"}], "sort": [{"field": "i", "order": "ascending"}]}],
          "mark": {"type": "bar", "size": 5, "strokeWidth": 1, "clip": true},
          "encoding": {
            "x": {
              "field": "i", "type": "quantitative",
              "scale": {"domain": [-0.21, 163.38], "nice": false, "zero": false},
              "axis": {"labels": false, "ticks": false, "domain": false, "grid": true, "values": [0, 10, 20, 30, 40, 50, 60, 70, 80, 90, 100, 110, 120, 130, 140, 150, 160], "title": null}
            },
            "y": {
              "field": "h", "type": "quantitative",
              "scale": {"domain": [-6263, 6349], "nice": false, "zero": false},
              "axis": {
                "orient": "right", "labelAlign": "center", "labelBaseline": "middle", "grid": true,
                "values": [-5000, 0, 5000],
                "labelExpr": "datum.value == 0 ? '0.0' : datum.value == -5000 ? '-5000.0' : ''",
                "title": null
              }
            },
            "y2": {"datum": 0},
            "fill": {
              "condition": [
                {"test": "datum.pv == null || (datum.h * datum.pv > 0 && abs(datum.h) > abs(datum.pv))", "value": "#ffffff"},
                {"test": "datum.h >= 0", "value": "#f04c5c"}
              ],
              "value": "#2db88b"
            },
            "stroke": {"condition": {"test": "datum.h >= 0", "value": "#f04c5c"}, "value": "#2db88b"}
          }
        },
        {
          "data": {"name": "dif"},
          "mark": {"type": "line", "strokeWidth": 1.2, "clip": true, "interpolate": "monotone"},
          "encoding": {
            "x": {"field": "i", "type": "quantitative"},
            "y": {"field": "v", "type": "quantitative"},
            "color": {"field": "s", "type": "nominal", "scale": {"domain": ["DIF", "DEA"], "range": ["#4dd0b8", "#fbb22b"]}, "legend": null}
          }
        }
      ]
    },
    {
      "width": 1327,
      "height": 175,
      "resolve": {"scale": {"color": "independent"}},
      "layer": [
        {
          "data": {"name": "boll"},
          "mark": {"type": "area", "color": "#f3e4fc", "clip": true, "interpolate": "monotone"},
          "encoding": {
            "x": {
              "field": "i", "type": "quantitative",
              "scale": {"domain": [-0.21, 163.38], "nice": false, "zero": false},
              "axis": {"labels": false, "ticks": false, "domain": false, "grid": true, "values": [0, 10, 20, 30, 40, 50, 60, 70, 80, 90, 100, 110, 120, 130, 140, 150, 160], "title": null}
            },
            "y": {
              "field": "up", "type": "quantitative",
              "scale": {"domain": [53756, 106546], "nice": false, "zero": false},
              "axis": {
                "orient": "right", "labelAlign": "center", "labelBaseline": "middle", "grid": true,
                "values": [60000, 70000, 80000, 90000, 100000], "format": ".1f", "title": null
              }
            },
            "y2": {"field": "lo"}
          }
        },
        {
          "data": {"name": "boll"},
          "transform": [{"fold": ["up", "mid", "lo"], "as": ["s", "v"]}],
          "mark": {"type": "line", "strokeWidth": 1.2, "clip": true, "interpolate": "monotone"},
          "encoding": {
            "x": {"field": "i", "type": "quantitative"},
            "y": {"field": "v", "type": "quantitative"},
            "color": {"field": "s", "type": "nominal", "scale": {"domain": ["up", "mid", "lo"], "range": ["#fba43a", "#3ebfb6", "#e548c3"]}, "legend": null}
          }
        },
        {
          "data": {"name": "k"},
          "mark": {"type": "rule", "strokeWidth": 1, "clip": true},
          "encoding": {
            "x": {"field": "i", "type": "quantitative"},
            "y": {"field": "h", "type": "quantitative"},
            "y2": {"field": "l"},
            "color": {"condition": {"test": "datum.c >= datum.o", "value": "#f04c5c"}, "value": "#2db88b"}
          }
        },
        {
          "data": {"name": "k"},
          "mark": {"type": "tick", "orient": "horizontal", "size": 4, "thickness": 1, "xOffset": -2, "clip": true, "opacity": 1},
          "encoding": {
            "x": {"field": "i", "type": "quantitative"},
            "y": {"field": "o", "type": "quantitative"},
            "color": {"condition": {"test": "datum.c >= datum.o", "value": "#f04c5c"}, "value": "#2db88b"}
          }
        },
        {
          "data": {"name": "k"},
          "mark": {"type": "tick", "orient": "horizontal", "size": 4, "thickness": 1, "xOffset": 2, "clip": true, "opacity": 1},
          "encoding": {
            "x": {"field": "i", "type": "quantitative"},
            "y": {"field": "c", "type": "quantitative"},
            "color": {"condition": {"test": "datum.c >= datum.o", "value": "#f04c5c"}, "value": "#2db88b"}
          }
        },
        {
          "data": {"values": [{"i": 85.4, "v": 78800, "t": "1日"}]},
          "mark": {"type": "text", "font": "Noto Sans CJK SC", "fontSize": 24, "color": "#f0505f", "align": "center", "baseline": "middle"},
          "encoding": {
            "x": {"field": "i", "type": "quantitative"},
            "y": {"field": "v", "type": "quantitative"},
            "text": {"field": "t"}
          }
        }
      ]
    }
  ]
}
